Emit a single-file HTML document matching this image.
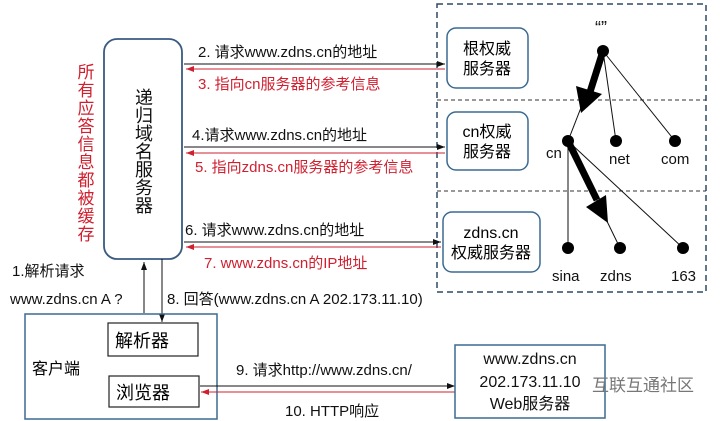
<!DOCTYPE html>
<html><head><meta charset="utf-8"><style>
html,body{margin:0;padding:0;background:#fff;}
svg{display:block;}
text{font-family:"Liberation Sans","Noto Sans CJK SC",sans-serif;}
</style></head><body>
<svg width="720" height="421" viewBox="0 0 720 421" xmlns="http://www.w3.org/2000/svg">
<defs>
<marker id="ab" markerWidth="8" markerHeight="6" refX="8" refY="3" orient="auto" markerUnits="userSpaceOnUse"><path d="M0,0 L8,3 L0,6 z" fill="#111"/></marker>
<marker id="ar" markerWidth="8" markerHeight="6" refX="8" refY="3" orient="auto" markerUnits="userSpaceOnUse"><path d="M0,0 L8,3 L0,6 z" fill="#d02030"/></marker>
</defs>
<rect x="437" y="4" width="269" height="288" fill="none" stroke="#2e4a66" stroke-width="1.5" stroke-dasharray="6,4"/>
<line x1="437" y1="100" x2="706" y2="100" stroke="#333" stroke-dasharray="4,3"/>
<line x1="437" y1="191" x2="706" y2="191" stroke="#333" stroke-dasharray="4,3"/>
<rect x="104" y="39" width="78" height="220" rx="13" fill="#fff" stroke="#3a5a80" stroke-width="1.8"/>
<g font-size="18" fill="#111" text-anchor="middle">
<text x="144" y="104">递</text><text x="144" y="122">归</text><text x="144" y="140">域</text><text x="144" y="158">名</text><text x="144" y="176">服</text><text x="144" y="194">务</text><text x="144" y="212">器</text>
</g>
<g font-size="17" fill="#d02030" text-anchor="middle">
<text x="86" y="78">所</text><text x="86" y="96">有</text><text x="86" y="114">应</text><text x="86" y="132">答</text><text x="86" y="150">信</text><text x="86" y="168">息</text><text x="86" y="186">都</text><text x="86" y="204">被</text><text x="86" y="222">缓</text><text x="86" y="240">存</text>
</g>
<rect x="447" y="28" width="81" height="60" rx="9" fill="#fff" stroke="#3a6a90" stroke-width="1.5"/>
<text x="487" y="54" font-size="16" text-anchor="middle">根权威</text>
<text x="487" y="74" font-size="16" text-anchor="middle">服务器</text>
<rect x="447" y="112" width="81" height="58" rx="9" fill="#fff" stroke="#3a6a90" stroke-width="1.5"/>
<text x="487" y="137" font-size="16" text-anchor="middle">cn权威</text>
<text x="487" y="157" font-size="16" text-anchor="middle">服务器</text>
<rect x="443" y="212" width="97" height="60" rx="9" fill="#fff" stroke="#3a6a90" stroke-width="1.5"/>
<text x="491" y="238" font-size="16" text-anchor="middle">zdns.cn</text>
<text x="491" y="258" font-size="16" text-anchor="middle">权威服务器</text>
<line x1="184" y1="64" x2="445" y2="64" stroke="#111" marker-end="url(#ab)"/>
<line x1="445" y1="69" x2="186" y2="69" stroke="#d02030" marker-end="url(#ar)"/>
<line x1="184" y1="147" x2="445" y2="147" stroke="#111" marker-end="url(#ab)"/>
<line x1="445" y1="153" x2="186" y2="153" stroke="#d02030" marker-end="url(#ar)"/>
<line x1="184" y1="242" x2="441" y2="242" stroke="#111" marker-end="url(#ab)"/>
<line x1="441" y1="247" x2="186" y2="247" stroke="#d02030" marker-end="url(#ar)"/>
<g font-size="15">
<text x="198" y="57" fill="#111">2. 请求www.zdns.cn的地址</text>
<text x="198" y="89" fill="#d02030">3. 指向cn服务器的参考信息</text>
<text x="192" y="140" fill="#111">4.请求www.zdns.cn的地址</text>
<text x="195" y="172" fill="#d02030">5. 指向zdns.cn服务器的参考信息</text>
<text x="185" y="235" fill="#111">6. 请求www.zdns.cn的地址</text>
<text x="204" y="268" fill="#d02030">7. www.zdns.cn的IP地址</text>
<text x="12" y="276" fill="#111">1.解析请求</text>
<text x="10" y="304" fill="#111">www.zdns.cn A ?</text>
<text x="167" y="304" fill="#111">8. 回答(www.zdns.cn A 202.173.11.10)</text>
<text x="236" y="375" fill="#111">9. 请求http://www.zdns.cn/</text>
<text x="285" y="416" fill="#111">10. HTTP响应</text>
</g>
<g stroke="#111" stroke-width="1">
<line x1="603" y1="51" x2="568" y2="141"/>
<line x1="603" y1="51" x2="616" y2="141"/>
<line x1="603" y1="51" x2="675" y2="141"/>
<line x1="568" y1="141" x2="568" y2="248"/>
<line x1="568" y1="141" x2="620" y2="248"/>
<line x1="568" y1="141" x2="683" y2="248"/>
</g>
<line x1="603" y1="51" x2="590" y2="92" stroke="#000" stroke-width="7"/>
<path d="M576,86 L602,94 L581,113 z" fill="#000"/>
<line x1="568" y1="141" x2="597" y2="200" stroke="#000" stroke-width="7"/>
<path d="M586,207 L606,195 L608,223 z" fill="#000"/>
<g fill="#000">
<circle cx="603" cy="51" r="6"/><circle cx="568" cy="141" r="6"/><circle cx="616" cy="141" r="6"/><circle cx="675" cy="141" r="6"/>
<circle cx="568" cy="248" r="6"/><circle cx="620" cy="248" r="6"/><circle cx="683" cy="248" r="6"/>
</g>
<g font-size="15" fill="#111">
<text x="595" y="34" font-size="18">“”</text>
<text x="546" y="158">cn</text>
<text x="609" y="164">net</text>
<text x="661" y="164">com</text>
<text x="552" y="281">sina</text>
<text x="600" y="281">zdns</text>
<text x="671" y="281">163</text>
</g>
<line x1="144" y1="313" x2="144" y2="262" stroke="#111" marker-end="url(#ab)"/>
<line x1="162" y1="259" x2="162" y2="322" stroke="#111" marker-end="url(#ab)"/>
<rect x="25" y="314" width="192" height="105" fill="none" stroke="#3a6a90" stroke-width="1.5"/>
<rect x="108" y="323" width="90" height="33" fill="#fff" stroke="#222" stroke-width="1.2"/>
<text x="115" y="347" font-size="18">解析器</text>
<rect x="109" y="376" width="90" height="31" fill="#fff" stroke="#222" stroke-width="1.2"/>
<text x="116" y="399" font-size="18">浏览器</text>
<text x="32" y="374" font-size="16">客户端</text>
<line x1="200" y1="386" x2="455" y2="386" stroke="#111" marker-end="url(#ab)"/>
<line x1="455" y1="392" x2="201" y2="392" stroke="#d02030" marker-end="url(#ar)"/>
<rect x="455" y="345" width="150" height="73" fill="#fff" stroke="#3a6a90" stroke-width="1.5"/>
<g font-size="16" text-anchor="middle" fill="#111">
<text x="530" y="364">www.zdns.cn</text>
<text x="530" y="387">202.173.11.10</text>
<text x="530" y="409">Web服务器</text>
</g>
<text x="592" y="391" font-size="17" fill="#777">互联互通社区</text>
</svg>
</body></html>
